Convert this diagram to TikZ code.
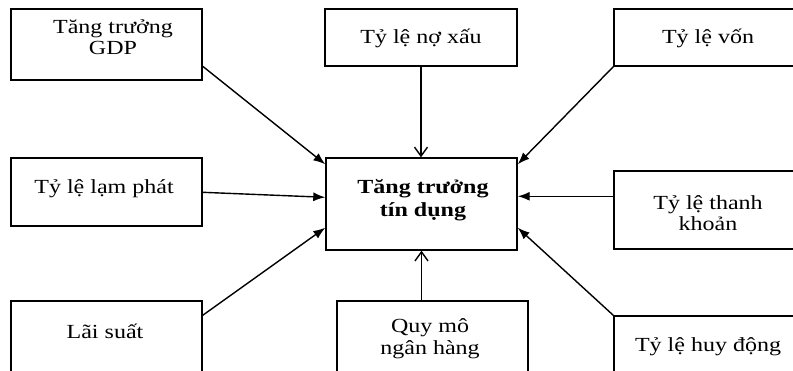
\documentclass[tikz,border=0pt]{standalone}
\usepackage{fontspec}
\setmainfont{Liberation Serif}[FakeStretch=1.2]
\usepackage{tikz}
\usetikzlibrary{arrows.meta,positioning,calc}
\tikzset{
  box/.style={draw, line width=1.4pt, inner sep=0pt},
  lbl/.style={align=center, inner sep=0pt, font=\fontsize{20}{21.5}\selectfont},
  arr/.style={line width=1.4pt, -{Latex[length=12pt,width=9pt]}},
  varr/.style={line width=1.4pt, -{Straight Barb[length=9pt,width=13pt]}}
}

\begin{document}
\begin{tikzpicture}[x=1pt,y=-1pt]
    \useasboundingbox (0,0) rectangle (793,370);
    \clip (0,0) rectangle (793,370);

    % boxes
    \node [box, minimum width=191pt, minimum height=71pt] (gdp) at (106.5,44.5) {};
    \node [box, minimum width=192pt, minimum height=57pt] (noxau) at (421,37.5) {};
    \node [box, minimum width=189pt, minimum height=57pt] (von) at (708.5,37.5) {};
    \node [box, minimum width=191pt, minimum height=68pt] (lamphat) at (106.5,192) {};
    \node [box, minimum width=191pt, minimum height=92pt] (tang) at (421.5,204) {};
    \node [box, minimum width=189pt, minimum height=78pt] (thanhkhoan) at (708.5,210) {};
    \node [box, minimum width=191pt, minimum height=99pt] (laisuat) at (106.5,350.5) {};
    \node [box, minimum width=191pt, minimum height=99pt] (quymo) at (432.5,350.5) {};
    \node [box, minimum width=189pt, minimum height=84pt] (huydong) at (708.5,358) {};

    % texts
    \node [lbl] (gdpt) at (113,37) {Tăng trưởng\\GDP};
    \node [lbl] (noxaut) at (421,38) {Tỷ lệ nợ xấu};
    \node [lbl] (vont) at (708,38) {Tỷ lệ vốn};
    \node [lbl] (lamphatt) at (104,189) {Tỷ lệ lạm phát};
    \node [lbl, font=\fontsize{20}{23}\selectfont\bfseries] (tangt) at (423,200) {Tăng trưởng\\tín dụng};
    \node [lbl] (thanhkhoant) at (708,213) {Tỷ lệ thanh\\khoản};
    \node [lbl] (laisuatt) at (105,331) {Lãi suất};
    \node [lbl] (quymot) at (430,338.5) {Quy mô\\ngân hàng};
    \node [lbl] (huydongt) at (708,347) {Tỷ lệ huy động};

    % connectors
    \draw [arr] ($(gdp.north east)+(0,58)$) -- ($(tang.north west)+(0,7)$);
    \draw [varr] (noxau.south) -- (noxau.south |- tang.north);
    \draw [arr] (von.south west) -- ($(tang.north east)+(0,7)$);
    \draw [arr] ($(lamphat.north east)+(0,35)$) -- ($(tang.north west)+(0,40)$);
    \draw [arr] ($(thanhkhoan.north west)+(0,26)$) -- ($(tang.north east)+(0,39)$);
    \draw [arr] ($(laisuat.north east)+(0,15)$) -- ($(tang.south west)+(0,-23)$);
    \draw [varr] (tang.south |- quymo.north) -- (tang.south);
    \draw [arr] (huydong.north west) -- ($(tang.south east)+(0,-23)$);
  \end{tikzpicture}
\end{document}
